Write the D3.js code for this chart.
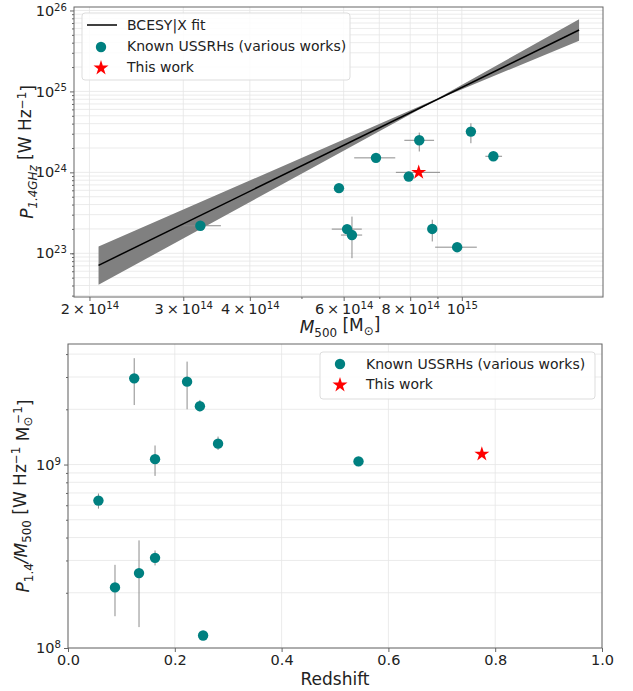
<!DOCTYPE html>
<html>
<head>
<meta charset="utf-8">
<script src="https://cdn.jsdelivr.net/npm/d3@7"></script>
<style>
  body { margin: 0; background: #fff; }
  svg { font-family: "DejaVu Sans", sans-serif; }
</style>
</head>
<body>
<svg id="chart" width="633" height="691"></svg>
<script>
// ---- top panel: radio power vs mass ----
var knownMass  = [3.23e14, 5.88e14, 6.09e14, 6.22e14, 6.9e14, 7.95e14, 8.32e14, 8.8e14, 9.8e14, 1.04e15, 1.146e15];
var knownMassLo = [3.0e14, 5.88e14, 5.70e14, 5.93e14, 6.28e14, 7.95e14, 7.8e14, 8.8e14, 8.91e14, 1.04e15, 1.107e15];
var knownMassHi = [3.53e14, 5.88e14, 6.49e14, 6.50e14, 7.5e14, 7.95e14, 8.87e14, 8.8e14, 1.067e15, 1.04e15, 1.19e15];
var knownPower = [2.19e23, 6.38e23, 1.99e23, 1.68e23, 1.51e24, 8.87e23, 2.49e24, 2.0e23, 1.19e23, 3.19e24, 1.58e24];
var knownPowerLo = [2.19e23, 6.38e23, 1.99e23, 8.7e22, 1.51e24, 8.0e23, 1.81e24, 1.4e23, 1.19e23, 2.29e24, 1.58e24];
var knownPowerHi = [2.19e23, 6.38e23, 1.99e23, 2.84e23, 1.51e24, 9.8e23, 3.1e24, 2.6e23, 1.19e23, 4.04e24, 1.58e24];

var thisMass = [8.3e14], thisMassLo = [7.52e14], thisMassHi = [9.1e14];
var thisPower = [1.0e24];

// BCES Y|X fit line and its band
var fitMass = [2.08e14, 1.66e15];
var fitPower = [7.1e22, 5.74e25];
var bandMass = [2.08e14, 9.0e14, 1.66e15];
var bandLo = [4.08e22, 7.95e24, 4.24e25];
var bandHi = [1.21e23, 8.15e24, 7.78e25];

var massTicks = [2e14, 3e14, 4e14, 6e14, 8e14, 1e15];
var massTickLabels = [["2\u2009\u00d7\u200910", "14"], ["3\u2009\u00d7\u200910", "14"], ["4\u2009\u00d7\u200910", "14"], ["6\u2009\u00d7\u200910", "14"], ["8\u2009\u00d7\u200910", "14"], ["10", "15"]];
var powerTicks = [1e23, 1e24, 1e25, 1e26];
var powerTickLabels = [["10", "23"], ["10", "24"], ["10", "25"], ["10", "26"]];

// ---- bottom panel: P/M vs redshift ----
var knownZ = [0.057, 0.088, 0.124, 0.133, 0.163, 0.163, 0.223, 0.247, 0.253, 0.281, 0.544];
var knownRatio = [6.36e8, 2.14e8, 2.95e9, 2.56e8, 1.07e9, 3.1e8, 2.83e9, 2.08e9, 1.17e8, 1.30e9, 1.04e9];
var knownRatioLo = [5.75e8, 1.49e8, 2.11e9, 1.3e8, 8.67e8, 2.82e8, 2.0e9, 1.95e9, 1.17e8, 1.2e9, 0.98e9];
var knownRatioHi = [6.95e8, 2.84e8, 3.8e9, 3.86e8, 1.27e9, 3.4e8, 3.64e9, 2.25e9, 1.17e8, 1.42e9, 1.1e9];
var thisZ = [0.775];
var thisRatio = [1.14e9];

var zTicks = [0, 0.2, 0.4, 0.6, 0.8, 1.0];
var ratioTicks = [1e8, 1e9];
var ratioTickLabels = [["10", "8"], ["10", "9"]];

var teal = "#008080", red = "#ff0000", errColor = "#8c8c8c", gridColor = "#e6e6e6";
var tickFont = 14.5;

var svg = d3.select("#chart");

function supText(sel, parts) {
    sel.text(null);
    sel.append("tspan").text(parts[0]);
    sel.append("tspan").attr("dy", "-0.5em").attr("font-size", "0.7em").text(parts[1]);
}

function minorLog(lo, hi) {
    var out = [];
    for (var e = Math.floor(Math.log10(lo)); e <= Math.ceil(Math.log10(hi)); e++) {
        for (var m = 1; m < 10; m++) {
            var v = m * Math.pow(10, e);
            if (v >= lo && v <= hi) out.push(v);
        }
    }
    return out;
}

// ================= TOP PANEL =================
var t = {left: 74, right: 603, top: 7, bottom: 297};
var x1 = d3.scaleLog().domain([Math.pow(10, 14.272), Math.pow(10, 15.265)]).range([t.left, t.right]);
var y1 = d3.scaleLog().domain([Math.pow(10, 22.46), Math.pow(10, 26.043)]).range([t.bottom, t.top]);

var topG = svg.append("g");
var xMin1 = minorLog(x1.domain()[0], x1.domain()[1]);
var yMin1 = minorLog(y1.domain()[0], y1.domain()[1]);

topG.append("g").selectAll("line").data(xMin1).enter().append("line")
    .attr("x1", d => x1(d)).attr("x2", d => x1(d)).attr("y1", t.top).attr("y2", t.bottom)
    .attr("stroke", gridColor).attr("stroke-width", 0.8);
topG.append("g").selectAll("line").data(yMin1).enter().append("line")
    .attr("y1", d => y1(d)).attr("y2", d => y1(d)).attr("x1", t.left).attr("x2", t.right)
    .attr("stroke", gridColor).attr("stroke-width", 0.8);

// band
var bandData = bandMass.map((m, i) => ({m: m, lo: bandLo[i], hi: bandHi[i]}));
topG.append("path").datum(bandData)
    .attr("d", d3.area().x(d => x1(d.m)).y0(d => y1(d.lo)).y1(d => y1(d.hi)))
    .attr("fill", "#808080");
topG.append("path").datum(fitMass.map((m, i) => [m, fitPower[i]]))
    .attr("d", d3.line().x(d => x1(d[0])).y(d => y1(d[1])))
    .attr("stroke", "#000").attr("stroke-width", 1.5).attr("fill", "none");

// error bars
var known1 = knownMass.map((m, i) => ({m: m, mlo: knownMassLo[i], mhi: knownMassHi[i], p: knownPower[i], plo: knownPowerLo[i], phi: knownPowerHi[i]}));
var eb1 = topG.append("g").attr("stroke", errColor).attr("stroke-width", 1);
eb1.selectAll(".ex").data(known1).enter().append("line")
    .attr("x1", d => x1(d.mlo)).attr("x2", d => x1(d.mhi)).attr("y1", d => y1(d.p)).attr("y2", d => y1(d.p));
eb1.selectAll(".ey").data(known1).enter().append("line")
    .attr("x1", d => x1(d.m)).attr("x2", d => x1(d.m)).attr("y1", d => y1(d.plo)).attr("y2", d => y1(d.phi));
eb1.selectAll(".sx").data(thisMass).enter().append("line")
    .attr("x1", (d, i) => x1(thisMassLo[i])).attr("x2", (d, i) => x1(thisMassHi[i]))
    .attr("y1", (d, i) => y1(thisPower[i])).attr("y2", (d, i) => y1(thisPower[i]));

topG.append("g").selectAll("circle").data(known1).enter().append("circle")
    .attr("cx", d => x1(d.m)).attr("cy", d => y1(d.p)).attr("r", 5.2).attr("fill", teal);

var star = d3.symbol().type(d3.symbolStar).size(70);
topG.append("g").selectAll("path").data(thisMass).enter().append("path")
    .attr("d", star).attr("fill", red)
    .attr("transform", (d, i) => "translate(" + x1(d) + "," + y1(thisPower[i]) + ")");

// axes
var xAx1 = topG.append("g").attr("transform", "translate(0," + t.bottom + ")")
    .call(d3.axisBottom(x1).tickValues(massTicks).tickSize(4).tickPadding(3).tickFormat(""));
xAx1.selectAll(".tick text").each(function(d, i) { supText(d3.select(this), massTickLabels[i]); });
topG.append("g").attr("transform", "translate(0," + t.bottom + ")")
    .call(d3.axisBottom(x1).tickValues(xMin1.filter(v => massTicks.indexOf(v) < 0)).tickSize(2).tickFormat(""));
var yAx1 = topG.append("g").attr("transform", "translate(" + t.left + ",0)")
    .call(d3.axisLeft(y1).tickValues(powerTicks).tickSize(4).tickPadding(3).tickFormat(""));
yAx1.selectAll(".tick text").each(function(d, i) { supText(d3.select(this), powerTickLabels[i]); });
topG.append("g").attr("transform", "translate(" + t.left + ",0)")
    .call(d3.axisLeft(y1).tickValues(yMin1.filter(v => powerTicks.indexOf(v) < 0)).tickSize(2).tickFormat(""));

topG.append("rect").attr("x", t.left).attr("y", t.top).attr("width", t.right - t.left).attr("height", t.bottom - t.top)
    .attr("fill", "none").attr("stroke", "#666").attr("stroke-width", 1);

// axis titles
var xl1 = topG.append("text").attr("x", 340).attr("y", 333).attr("text-anchor", "middle").attr("font-size", 17).attr("fill", "#222");
xl1.append("tspan").attr("font-style", "italic").text("M");
xl1.append("tspan").attr("font-size", "0.7em").attr("dy", "0.3em").text("500");
xl1.append("tspan").attr("dy", "-0.3em").text(" [M");
xl1.append("tspan").attr("font-size", "0.7em").attr("dy", "0.3em").text("\u2299");
xl1.append("tspan").attr("dy", "-0.3em").text("]");

var yl1 = topG.append("text").attr("transform", "translate(33,152) rotate(-90)").attr("text-anchor", "middle").attr("font-size", 17).attr("fill", "#222");
yl1.append("tspan").attr("font-style", "italic").text("P");
yl1.append("tspan").attr("font-style", "italic").attr("font-size", "0.7em").attr("dy", "0.3em").text("1.4GHz");
yl1.append("tspan").attr("dy", "-0.3em").text(" [W Hz");
yl1.append("tspan").attr("font-size", "0.7em").attr("dy", "-0.5em").text("\u22121");
yl1.append("tspan").attr("dy", "0.5em").text("]");

// legend
var lg1 = topG.append("g");
lg1.append("rect").attr("x", 82).attr("y", 13).attr("width", 268).attr("height", 67).attr("rx", 3)
    .attr("fill", "#fff").attr("fill-opacity", 0.85).attr("stroke", "#ddd");
lg1.append("line").attr("x1", 87).attr("x2", 117).attr("y1", 25).attr("y2", 25).attr("stroke", "#000").attr("stroke-width", 1.5);
lg1.append("circle").attr("cx", 101).attr("cy", 47).attr("r", 5.2).attr("fill", teal);
lg1.append("path").attr("d", star).attr("fill", red).attr("transform", "translate(101,68)");
[["BCESY|X fit", 25], ["Known USSRHs (various works)", 46], ["This work", 67]].forEach(function(e) {
    lg1.append("text").attr("x", 127).attr("y", e[1]).attr("dy", "0.35em").attr("font-size", 14).attr("fill", "#222").text(e[0]);
});

// ================= BOTTOM PANEL =================
var b = {left: 68, right: 602, top: 344, bottom: 648};
var x2 = d3.scaleLinear().domain([0, 1]).range([b.left, b.right]);
var y2 = d3.scaleLog().domain([1e8, Math.pow(10, 9.657)]).range([b.bottom, b.top]);
var bot = svg.append("g");
var yMin2 = minorLog(y2.domain()[0], y2.domain()[1]);

bot.append("g").selectAll("line").data(zTicks).enter().append("line")
    .attr("x1", d => x2(d)).attr("x2", d => x2(d)).attr("y1", b.top).attr("y2", b.bottom)
    .attr("stroke", gridColor).attr("stroke-width", 0.8);
bot.append("g").selectAll("line").data(yMin2).enter().append("line")
    .attr("y1", d => y2(d)).attr("y2", d => y2(d)).attr("x1", b.left).attr("x2", b.right)
    .attr("stroke", gridColor).attr("stroke-width", 0.8);

var known2 = knownZ.map((z, i) => ({z: z, r: knownRatio[i], lo: knownRatioLo[i], hi: knownRatioHi[i]}));
bot.append("g").attr("stroke", errColor).attr("stroke-width", 1)
    .selectAll("line").data(known2).enter().append("line")
    .attr("x1", d => x2(d.z)).attr("x2", d => x2(d.z)).attr("y1", d => y2(d.lo)).attr("y2", d => y2(d.hi));
bot.append("g").selectAll("circle").data(known2).enter().append("circle")
    .attr("cx", d => x2(d.z)).attr("cy", d => y2(d.r)).attr("r", 5.2).attr("fill", teal);
bot.append("g").selectAll("path").data(thisZ).enter().append("path")
    .attr("d", star).attr("fill", red)
    .attr("transform", (d, i) => "translate(" + x2(d) + "," + y2(thisRatio[i]) + ")");

bot.append("g").attr("transform", "translate(0," + b.bottom + ")")
    .call(d3.axisBottom(x2).tickValues(zTicks).tickSize(4).tickPadding(3).tickFormat(d3.format(".1f")));
var yAx2 = bot.append("g").attr("transform", "translate(" + b.left + ",0)")
    .call(d3.axisLeft(y2).tickValues(ratioTicks).tickSize(4).tickPadding(3).tickFormat(""));
yAx2.selectAll(".tick text").each(function(d, i) { supText(d3.select(this), ratioTickLabels[i]); });
bot.append("g").attr("transform", "translate(" + b.left + ",0)")
    .call(d3.axisLeft(y2).tickValues(yMin2.filter(v => ratioTicks.indexOf(v) < 0)).tickSize(2).tickFormat(""));

bot.append("rect").attr("x", b.left).attr("y", b.top).attr("width", b.right - b.left).attr("height", b.bottom - b.top)
    .attr("fill", "none").attr("stroke", "#666").attr("stroke-width", 1);

bot.append("text").attr("x", 335).attr("y", 685).attr("text-anchor", "middle").attr("font-size", 17).attr("fill", "#222").text("Redshift");

var yl2 = bot.append("text").attr("transform", "translate(29,496) rotate(-90)").attr("text-anchor", "middle").attr("font-size", 17).attr("fill", "#222");
yl2.append("tspan").attr("font-style", "italic").text("P");
yl2.append("tspan").attr("font-size", "0.7em").attr("dy", "0.3em").text("1.4");
yl2.append("tspan").attr("dy", "-0.3em").attr("font-style", "italic").text("/M");
yl2.append("tspan").attr("font-size", "0.7em").attr("dy", "0.3em").text("500");
yl2.append("tspan").attr("dy", "-0.3em").text(" [W Hz");
yl2.append("tspan").attr("font-size", "0.7em").attr("dy", "-0.5em").text("\u22121");
yl2.append("tspan").attr("dy", "0.5em").text(" M");
yl2.append("tspan").attr("font-size", "0.7em").attr("dy", "0.3em").text("\u2299");
yl2.append("tspan").attr("font-size", "0.7em").attr("dy", "-0.85em").attr("dx", "-0.6em").text("\u22121");
yl2.append("tspan").attr("dy", "0.55em").text("]");

var lg2 = bot.append("g");
lg2.append("rect").attr("x", 320).attr("y", 352).attr("width", 275).attr("height", 47).attr("rx", 3)
    .attr("fill", "#fff").attr("fill-opacity", 0.85).attr("stroke", "#ddd");
lg2.append("circle").attr("cx", 340).attr("cy", 364).attr("r", 5.2).attr("fill", teal);
lg2.append("path").attr("d", star).attr("fill", red).attr("transform", "translate(340,385)");
[["Known USSRHs (various works)", 364], ["This work", 384]].forEach(function(e) {
    lg2.append("text").attr("x", 366).attr("y", e[1]).attr("dy", "0.35em").attr("font-size", 14).attr("fill", "#222").text(e[0]);
});

// style all axes
svg.selectAll(".domain").attr("stroke", "none");
svg.selectAll(".tick line").attr("stroke", "#666");
svg.selectAll(".tick text").attr("font-size", tickFont).attr("fill", "#222").attr("font-family", "DejaVu Sans, sans-serif");
</script>
</body>
</html>
